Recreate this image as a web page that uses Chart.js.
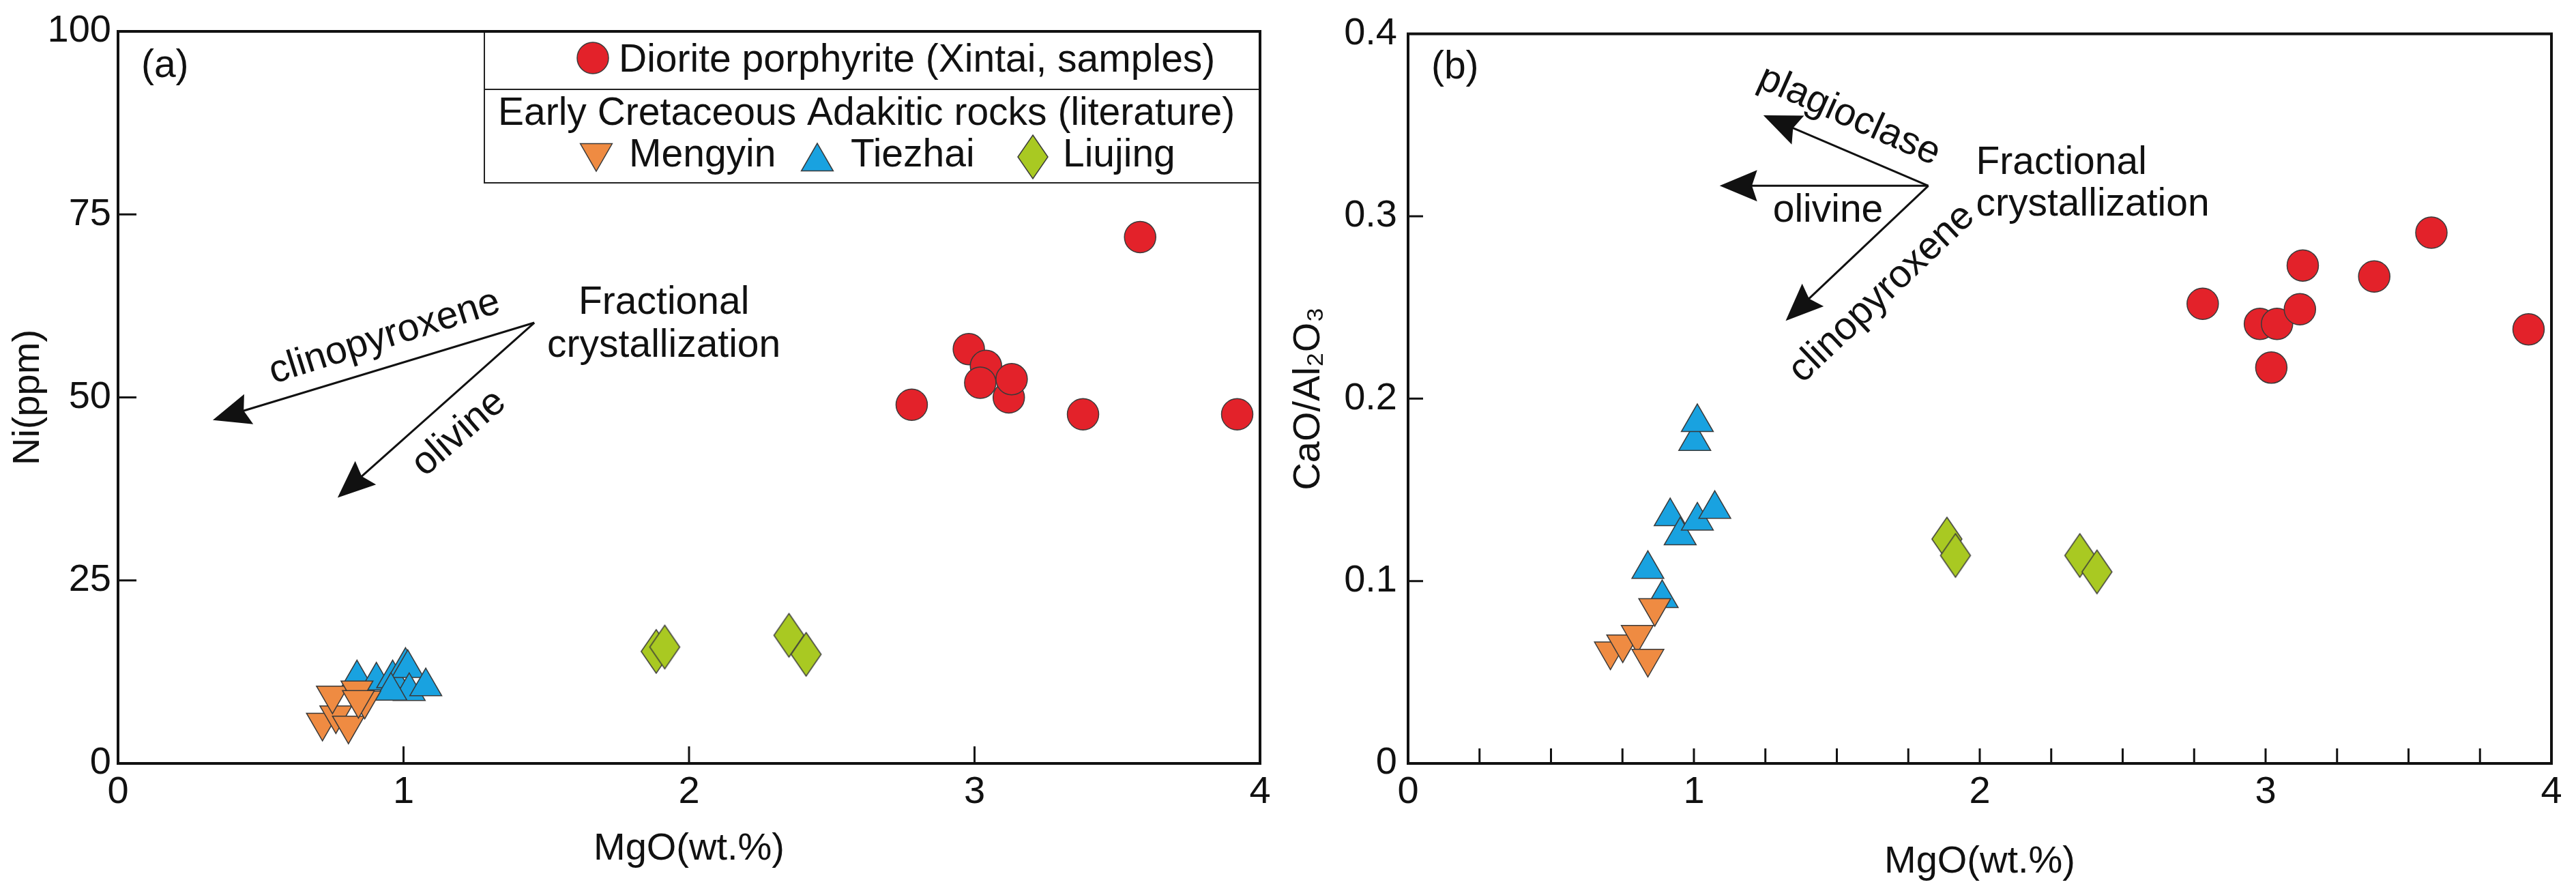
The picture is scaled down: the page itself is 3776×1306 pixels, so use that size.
<!DOCTYPE html>
<html>
<head>
<meta charset="utf-8">
<script src="https://cdn.jsdelivr.net/npm/chart.js@4.4.0/dist/chart.umd.min.js"></script>
<style>
  html, body { margin: 0; padding: 0; background: #fff; }
  #wrap { position: relative; width: 3776px; height: 1306px; }
  .panel { position: absolute; top: 0; width: 1888px; height: 1306px; }
</style>
</head>
<body>
<div id="wrap">
  <div class="panel" style="left:0"><canvas id="chartA" width="1888" height="1306"></canvas></div>
  <div class="panel" style="left:1888px"><canvas id="chartB" width="1888" height="1306"></canvas></div>
</div>
<script>
// values: MgO (wt.%) against Ni (ppm) and CaO/Al2O3
const dioriteMgO = [2.78, 2.98, 3.04, 3.02, 3.12, 3.13, 3.38, 3.58, 3.92];
const dioriteNi = [49.0, 56.6, 54.3, 52.0, 50.0, 52.5, 47.7, 71.9, 47.7];
const dioriteCaAl = [0.252, 0.241, 0.241, 0.217, 0.249, 0.273, 0.267, 0.291, 0.238];

const mengyinMgO_a = [0.716, 0.763, 0.807, 0.751, 0.837, 0.864, 0.842];
const mengyinNi = [5.6, 6.6, 5.2, 9.3, 10.0, 8.6, 8.7];
const mengyinMgO_b = [0.708, 0.751, 0.802, 0.863, 0.839];
const mengyinCaAl = [0.0615, 0.0654, 0.0706, 0.0853, 0.0575];

const tiezhaiMgO_a = [0.837, 0.905, 0.962, 1.007, 1.015, 1.020, 0.956, 1.078];
const tiezhaiNi = [11.6, 11.3, 11.6, 13.3, 13.0, 9.85, 9.9, 10.5];
const tiezhaiMgO_b = [0.839, 0.889, 0.917, 0.952, 1.003, 1.012, 1.012, 1.073];
const tiezhaiCaAl = [0.1065, 0.0905, 0.1354, 0.1249, 0.1766, 0.187, 0.133, 0.1394];

const liujingMgO = [1.885, 1.915, 2.35, 2.41];
const liujingNi = [15.3, 15.9, 17.5, 14.9];
const liujingCaAl = [0.123, 0.114, 0.114, 0.105];

const mgoTicks = [0, 1, 2, 3, 4];
const niTicks = [0, 25, 50, 75, 100];
const caAlTicks = [0, 0.1, 0.2, 0.3, 0.4];
const mgoMinorB = [0.25, 0.5, 0.75, 1, 1.25, 1.5, 1.75, 2, 2.25, 2.5, 2.75, 3, 3.25, 3.5, 3.75];

const FONT = "'Liberation Sans', Arial, Helvetica, sans-serif";
const INK = '#111';
const EDGE = '#3a3a3a';
const RED = '#E3222A', ORANGE = '#EF8B42', BLUE = '#19A2E0', GREEN = '#A9C922';

const pts = (xs, ys) => xs.map((x, i) => ({ x, y: ys[i] }));

// elongated diamond used for Liujing (Chart.js rectRot is always square)
function diamondImage(w, h) {
    const c = document.createElement('canvas');
    c.width = w + 4;
    c.height = h + 4;
    const g = c.getContext('2d');
    g.beginPath();
    g.moveTo(c.width / 2, 2);
    g.lineTo(c.width - 2, c.height / 2);
    g.lineTo(c.width / 2, c.height - 2);
    g.lineTo(2, c.height / 2);
    g.closePath();
    g.fillStyle = GREEN;
    g.fill();
    g.lineWidth = 1.5;
    g.strokeStyle = EDGE;
    g.stroke();
    return c;
}
const diamond = diamondImage(44, 64);

const markerStyles = {
    diorite: { pointStyle: 'circle', pointRadius: 23, backgroundColor: RED },
    mengyin: { pointStyle: 'triangle', pointRadius: 27, pointRotation: 180, backgroundColor: ORANGE },
    tiezhai: { pointStyle: 'triangle', pointRadius: 27, backgroundColor: BLUE },
    liujing: { pointStyle: diamond, pointRadius: 32, backgroundColor: GREEN },
};

function dataset(label, data, key) {
    return Object.assign({
        label,
        data,
        borderColor: EDGE,
        borderWidth: 1.5,
        pointHoverRadius: markerStyles[key].pointRadius,
        clip: false,
    }, markerStyles[key]);
}

function drawMarker(ctx, key, x, y) {
    const s = markerStyles[key];
    ctx.save();
    if (key === 'liujing') {
        ctx.drawImage(diamond, x - diamond.width / 2, y - diamond.height / 2);
        ctx.restore();
        return;
    }
    ctx.beginPath();
    if (key === 'diorite') {
        ctx.arc(x, y, s.pointRadius, 0, Math.PI * 2);
    } else {
        let rad = (s.pointRotation || 0) * Math.PI / 180;
        for (let k = 0; k < 3; k++) {
            const px = x + Math.sin(rad) * s.pointRadius, py = y - Math.cos(rad) * s.pointRadius;
            k ? ctx.lineTo(px, py) : ctx.moveTo(px, py);
            rad += Math.PI * 2 / 3;
        }
        ctx.closePath();
    }
    ctx.fillStyle = s.backgroundColor;
    ctx.fill();
    ctx.lineWidth = 1.5;
    ctx.strokeStyle = EDGE;
    ctx.stroke();
    ctx.restore();
}

function drawArrow(ctx, x0, y0, x1, y1) {
    const ang = Math.atan2(y1 - y0, x1 - x0);
    const c = Math.cos(ang), s = Math.sin(ang);
    const L = 55, W = 23;
    const bx = x1 - c * L, by = y1 - s * L;
    ctx.beginPath();
    ctx.moveTo(x0, y0);
    ctx.lineTo(x1 - c * L * 0.8, y1 - s * L * 0.8);
    ctx.stroke();
    ctx.beginPath();
    ctx.moveTo(x1, y1);
    ctx.lineTo(bx - s * W, by + c * W);
    ctx.lineTo(x1 - c * L * 0.86, y1 - s * L * 0.86);
    ctx.lineTo(bx + s * W, by - c * W);
    ctx.closePath();
    ctx.fill();
}

// box frame plus short inward tick marks
function frameTicks(xMarks, yMarks, xLen, yLen) {
    return {
        id: 'frameTicks',
        beforeDatasetsDraw(chart) {
            const { ctx, chartArea: a, scales: { x, y } } = chart;
            ctx.save();
            ctx.strokeStyle = INK;
            ctx.lineWidth = 3;
            ctx.beginPath();
            xMarks.forEach(v => {
                const px = x.getPixelForValue(v);
                ctx.moveTo(px, a.bottom);
                ctx.lineTo(px, a.bottom - xLen);
            });
            yMarks.forEach(v => {
                const py = y.getPixelForValue(v);
                ctx.moveTo(a.left, py);
                ctx.lineTo(a.left + yLen, py);
            });
            ctx.stroke();
            ctx.lineWidth = 4;
            ctx.strokeRect(a.left, a.top, a.right - a.left, a.bottom - a.top);
            ctx.restore();
        }
    };
}

// fractional crystallization vectors and panel text, placed in data units
function notes(arrows, labels) {
    return {
        id: 'notes',
        afterDatasetsDraw(chart) {
            const { ctx, scales: { x, y } } = chart;
            ctx.save();
            ctx.fillStyle = INK;
            ctx.strokeStyle = INK;
            ctx.lineWidth = 3;
            arrows.forEach(ar => drawArrow(ctx,
                x.getPixelForValue(ar.from[0]), y.getPixelForValue(ar.from[1]),
                x.getPixelForValue(ar.to[0]), y.getPixelForValue(ar.to[1])));
            ctx.font = '57px ' + FONT;
            labels.forEach(l => {
                ctx.save();
                ctx.translate(x.getPixelForValue(l.at[0]), y.getPixelForValue(l.at[1]));
                ctx.rotate((l.rot || 0) * Math.PI / 180);
                ctx.textAlign = l.align || 'center';
                ctx.textBaseline = l.base || 'middle';
                ctx.fillText(l.text, 0, 0);
                ctx.restore();
            });
            ctx.restore();
        }
    };
}

const legendBox = {
    id: 'legendBox',
    beforeDatasetsDraw(chart) {
        const { ctx, chartArea: a } = chart;
        const L = a.right - 1137, T = a.top, H = 222;
        ctx.save();
        ctx.fillStyle = '#fff';
        ctx.fillRect(L, T, a.right - L, H);
        ctx.strokeStyle = '#222';
        ctx.lineWidth = 2;
        ctx.strokeRect(L, T, a.right - L, H);
        ctx.beginPath();
        ctx.moveTo(L, T + 85);
        ctx.lineTo(a.right, T + 85);
        ctx.stroke();

        drawMarker(ctx, 'diorite', L + 159, T + 39);
        drawMarker(ctx, 'mengyin', L + 164, T + 178);
        drawMarker(ctx, 'tiezhai', L + 488, T + 191);
        drawMarker(ctx, 'liujing', L + 804, T + 184);

        ctx.fillStyle = INK;
        ctx.font = '57px ' + FONT;
        ctx.textAlign = 'left';
        ctx.textBaseline = 'alphabetic';
        ctx.fillText('Diorite porphyrite (Xintai, samples)', L + 197, T + 59);
        ctx.fillText('Early Cretaceous Adakitic rocks (literature)', L + 20, T + 137);
        ctx.fillText('Mengyin', L + 212, T + 198);
        ctx.fillText('Tiezhai', L + 537, T + 198);
        ctx.fillText('Liujing', L + 848, T + 198);
        ctx.restore();
    }
};

function axis(opts) {
    return {
        type: 'linear',
        min: opts.min,
        max: opts.max,
        afterBuildTicks: s => { s.ticks = opts.ticks.map(v => ({ value: v })); },
        afterFit: opts.fit,
        grid: { display: false, drawTicks: false },
        border: { display: false },
        ticks: {
            padding: opts.pad,
            color: INK,
            autoSkip: false,
            maxRotation: 0,
            font: { size: 56, family: FONT },
            callback: v => String(v),
        },
        title: {
            display: true,
            text: opts.title,
            color: INK,
            font: { size: 56, family: FONT, lineHeight: 1 },
            padding: opts.titlePad,
        },
    };
}

const baseOptions = {
    responsive: false,
    devicePixelRatio: 1,
    animation: false,
    events: [],
    plugins: { legend: { display: false }, tooltip: { enabled: false } },
};

new Chart(document.getElementById('chartA'), {
    type: 'scatter',
    data: {
        datasets: [
            dataset('Diorite porphyrite (Xintai, samples)', pts(dioriteMgO, dioriteNi), 'diorite'),
            dataset('Mengyin', pts(mengyinMgO_a, mengyinNi), 'mengyin'),
            dataset('Tiezhai', pts(tiezhaiMgO_a, tiezhaiNi), 'tiezhai'),
            dataset('Liujing', pts(liujingMgO, liujingNi), 'liujing'),
        ],
    },
    options: Object.assign({}, baseOptions, {
        layout: { padding: { top: 46, right: 41, left: 0, bottom: 0 } },
        scales: {
            x: axis({ min: 0, max: 4, ticks: mgoTicks, pad: 9, title: 'MgO(wt.%)',
                      titlePad: { top: 0, bottom: 33 }, fit: s => { s.height = 187; } }),
            y: axis({ min: 0, max: 100, ticks: niTicks, pad: 10, title: 'Ni(ppm)',
                      titlePad: { top: 14, bottom: 0 }, fit: s => { s.width = 173; } }),
        },
    }),
    plugins: [
        legendBox,
        frameTicks([1, 2, 3], [25, 50, 75], 25, 27),
        notes(
            [
                { from: [1.458, 60.2], to: [0.332, 46.9] },
                { from: [1.458, 60.2], to: [0.769, 36.3] },
            ],
            [
                { text: 'clinopyroxene', at: [0.934, 58.2], rot: -17.5 },
                { text: 'olivine', at: [1.195, 45.1], rot: -41 },
                { text: 'Fractional', at: [1.912, 61.4], base: 'alphabetic' },
                { text: 'crystallization', at: [1.912, 55.5], base: 'alphabetic' },
                { text: '(a)', at: [0.081, 95.2], align: 'left' },
            ]
        ),
    ],
});

new Chart(document.getElementById('chartB'), {
    type: 'scatter',
    data: {
        datasets: [
            dataset('Diorite porphyrite (Xintai, samples)', pts(dioriteMgO, dioriteCaAl), 'diorite'),
            dataset('Mengyin', pts(mengyinMgO_b, mengyinCaAl), 'mengyin'),
            dataset('Tiezhai', pts(tiezhaiMgO_b, tiezhaiCaAl), 'tiezhai'),
            dataset('Liujing', pts(liujingMgO, liujingCaAl), 'liujing'),
        ],
    },
    options: Object.assign({}, baseOptions, {
        layout: { padding: { top: 46, right: 36, left: 0, bottom: 0 } },
        scales: {
            x: axis({ min: 0, max: 4, ticks: mgoTicks, pad: 9, title: 'MgO(wt.%)',
                      titlePad: { top: 0, bottom: 14 }, fit: s => { s.height = 187; } }),
            y: axis({ min: 0, max: 0.4, ticks: caAlTicks, pad: 16, title: 'CaO/Al\u2082O\u2083',
                      titlePad: { top: 3, bottom: 0 }, fit: s => { s.width = 176; } }),
        },
    }),
    plugins: [
        frameTicks(mgoMinorB, [0.1, 0.2, 0.3], 22, 22),
        notes(
            [
                { from: [1.820, 0.3167], to: [1.243, 0.3553] },
                { from: [1.820, 0.3167], to: [1.090, 0.3167] },
                { from: [1.820, 0.3167], to: [1.321, 0.2427] },
            ],
            [
                { text: 'plagioclase', at: [1.543, 0.3549], rot: 24 },
                { text: 'olivine', at: [1.469, 0.2971], base: 'alphabetic' },
                { text: 'clinopyroxene', at: [1.658, 0.2576], rot: -43.6 },
                { text: 'Fractional', at: [1.987, 0.3232], align: 'left', base: 'alphabetic' },
                { text: 'crystallization', at: [1.987, 0.3005], align: 'left', base: 'alphabetic' },
                { text: '(b)', at: [0.081, 0.3814], align: 'left' },
            ]
        ),
    ],
});
</script>
</body>
</html>
